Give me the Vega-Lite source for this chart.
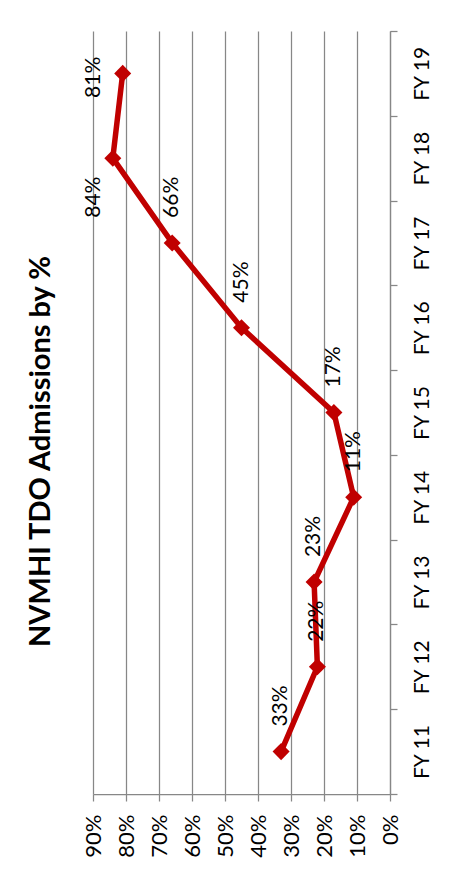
{
  "$schema": "https://vega.github.io/schema/vega-lite/v6.json",
  "autosize": {"type": "none"},
  "width": 297,
  "height": 763,
  "padding": {"left": 93, "top": 31, "right": 59, "bottom": 82},
  "background": "white",
  "config": {
    "view": {"stroke": null},
    "font": "Lato",
    "axis": {"labelFont": "Lato", "labelFontSize": 21, "labelColor": "#000000", "domainColor": "#878787", "tickColor": "#878787", "gridColor": "#878787", "domainWidth": 1.25, "tickWidth": 1.25, "gridWidth": 1.25, "tickSize": 7, "title": null}
  },
  "title": {"text": "NVMHI TDO Admissions by %", "orient": "left", "anchor": "middle", "font": "Lato", "fontSize": 29, "fontWeight": "bold", "color": "#000000", "offset": 26, "dx": -39},
  "data": {"values": [
    {"year": "FY 11", "pct": 0.33},
    {"year": "FY 12", "pct": 0.22},
    {"year": "FY 13", "pct": 0.23},
    {"year": "FY 14", "pct": 0.11},
    {"year": "FY 15", "pct": 0.17},
    {"year": "FY 16", "pct": 0.45},
    {"year": "FY 17", "pct": 0.66},
    {"year": "FY 18", "pct": 0.84},
    {"year": "FY 19", "pct": 0.81}
  ]},
  "encoding": {
    "x": {"field": "pct", "type": "quantitative", "scale": {"domain": [0, 0.9], "reverse": true, "nice": false, "zero": true},
      "axis": {"orient": "bottom", "values": [0, 0.1, 0.2, 0.3, 0.4, 0.5, 0.6, 0.7, 0.8, 0.9], "format": ".0%", "labelFontSize": 22, "labelAngle": 270, "labelAlign": "right", "labelBaseline": "middle", "labelPadding": 13, "grid": true, "labelFlush": false, "labelOverlap": false}},
    "y": {"field": "year", "type": "ordinal", "sort": "descending", "scale": {"paddingInner": 0, "paddingOuter": 0},
      "axis": {"orient": "right", "tickBand": "extent", "labelAngle": 270, "labelAlign": "center", "labelBaseline": "top", "labelPadding": 14, "grid": false}}
  },
  "layer": [
    {"mark": {"type": "line", "color": "#C00000", "strokeWidth": 5.5}},
    {"mark": {"type": "point", "shape": "diamond", "filled": true, "color": "#C00000", "size": 290, "opacity": 1}},
    {"transform": [{"filter": "datum.year != 'FY 18' && datum.year != 'FY 19'"}],
     "mark": {"type": "text", "angle": 270, "align": "left", "baseline": "middle", "dx": 25, "fontSize": 21, "font": "Lato", "color": "#000000"},
     "encoding": {"text": {"field": "pct", "type": "quantitative", "format": ".0%"}}},
    {"transform": [{"filter": "datum.year == 'FY 19'"}],
     "mark": {"type": "text", "angle": 270, "align": "center", "baseline": "middle", "dx": -4, "dy": -29, "fontSize": 21, "font": "Lato", "color": "#000000"},
     "encoding": {"text": {"field": "pct", "type": "quantitative", "format": ".0%"}}},
    {"transform": [{"filter": "datum.year == 'FY 18'"}],
     "mark": {"type": "text", "angle": 270, "align": "center", "baseline": "middle", "dx": -39, "dy": -19, "fontSize": 21, "font": "Lato", "color": "#000000"},
     "encoding": {"text": {"field": "pct", "type": "quantitative", "format": ".0%"}}}
  ]
}
